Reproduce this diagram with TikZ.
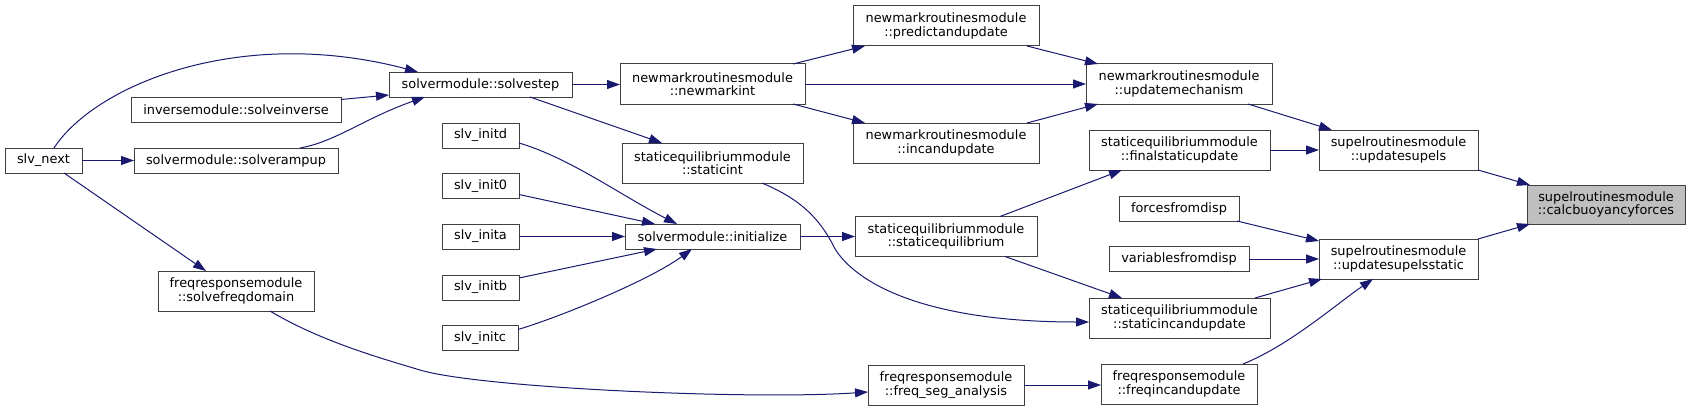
\documentclass[tikz,border=0pt]{standalone}
\usepackage{fontspec}
\setmainfont{DejaVu Sans}
\usetikzlibrary{arrows.meta,calc}
\definecolor{edgeblue}{HTML}{191970}
\definecolor{boxline}{HTML}{404040}
\definecolor{hilite}{HTML}{BFBFBF}
\begin{document}
\begin{tikzpicture}[x=1pt,y=-1pt,
  box/.style={draw=boxline, fill=white, line width=1pt, inner sep=0pt, outer sep=0pt,
    align=center, font=\fontsize{12.9}{13.3}\selectfont, minimum height=25pt},
  tall/.style={minimum height=40pt},
  edge/.style={draw=edgeblue, line width=1pt, -{Triangle[length=13pt,width=9pt]}}]
\useasboundingbox (0,0) rectangle (1691,412);

% nodes
\node[box, minimum width=77pt] (slvnext) at (43.5,160.5) {slv\_next};
\node[box, minimum width=210pt] (solveinverse) at (236,110) {inversemodule::solveinverse};
\node[box, minimum width=204pt] (solverampup) at (236,160.5) {solvermodule::solverampup};
\node[box, tall, minimum width=156pt] (solvefreq) at (236,291) {freqresponsemodule\\::solvefreqdomain};
\node[box, minimum width=183pt] (solvestep) at (480.5,84.5) {solvermodule::solvestep};
\node[box, minimum width=77pt] (initd) at (480.5,135.5) {slv\_initd};
\node[box, minimum width=77pt] (init0) at (480.5,186) {slv\_init0};
\node[box, minimum width=77pt] (inita) at (480.5,236.5) {slv\_inita};
\node[box, minimum width=77pt] (initb) at (480.5,287.5) {slv\_initb};
\node[box, minimum width=76pt] (initc) at (480,338) {slv\_initc};
\node[box, tall, minimum width=185pt] (newmarkint) at (712.5,84) {newmarkroutinesmodule\\::newmarkint};
\node[box, tall, minimum width=181pt] (staticint) at (712.5,163) {staticequilibriummodule\\::staticint};
\node[box, minimum width=175pt] (initialize) at (712.5,236.5) {solvermodule::initialize};
\node[box, tall, minimum width=186pt] (predict) at (946,26) {newmarkroutinesmodule\\::predictandupdate};
\node[box, tall, minimum width=186pt] (incand) at (946,143) {newmarkroutinesmodule\\::incandupdate};
\node[box, tall, minimum width=182pt] (staticeq) at (946,236.5) {staticequilibriummodule\\::staticequilibrium};
\node[box, tall, minimum width=156pt] (freqseg) at (946,385) {freqresponsemodule\\::freq\_seg\_analysis};
\node[box, tall, minimum width=186pt] (updmech) at (1179,84) {newmarkroutinesmodule\\::updatemechanism};
\node[box, tall, minimum width=181pt] (finalstat) at (1179.5,150) {staticequilibriummodule\\::finalstaticupdate};
\node[box, minimum width=120pt] (forces) at (1179,208.5) {forcesfromdisp};
\node[box, minimum width=140pt] (variables) at (1179,259) {variablesfromdisp};
\node[box, tall, minimum width=181pt] (staticinc) at (1179.5,318) {staticequilibriummodule\\::staticincandupdate};
\node[box, tall, minimum width=156pt] (freqinc) at (1179,384) {freqresponsemodule\\::freqincandupdate};
\node[box, tall, minimum width=159pt] (updsupels) at (1398.5,150) {supelroutinesmodule\\::updatesupels};
\node[box, tall, minimum width=159pt] (updstatic) at (1398.5,259) {supelroutinesmodule\\::updatesupelsstatic};
\node[box, tall, minimum width=158pt, minimum height=39pt, fill=hilite] (calc) at (1606,204.5) {supelroutinesmodule\\::calcbuoyancyforces};

% edges
\draw[edge] ($(slvnext.north west)+(49,0)$) .. controls (95,85) and (240,25) .. ($(solvestep.north west)+(29,0)$);
\draw[edge] (slvnext.east) -- (solverampup.west);
\draw[edge] ($(slvnext.south west)+(59,0)$) -- ($(solvefreq.north west)+(48,0)$);
\draw[edge] ($(solveinverse.north east)+(0,2)$) -- ($(solvestep.south west)+(0,-2)$);
\draw[edge] ($(solverampup.north west)+(166,0)$) .. controls (335,142) and (365,118) .. ($(solvestep.south west)+(36,0)$);
\draw[edge] (solvestep.east) -- (solvestep.east -| newmarkint.west);
\draw[edge] ($(solvestep.south west)+(141,0)$) -- ($(staticint.north west)+(40,0)$);
\draw[edge] ($(newmarkint.north west)+(173,0)$) -- ($(predict.south west)+(12,0)$);
\draw[edge] (newmarkint.east) -- (updmech.west);
\draw[edge] ($(newmarkint.south west)+(173,0)$) -- ($(incand.north west)+(12,0)$);
\draw[edge] ($(predict.south west)+(174,0)$) -- ($(updmech.north west)+(12,0)$);
\draw[edge] ($(incand.north west)+(174,0)$) -- ($(updmech.south west)+(12,0)$);
\draw[edge] ($(updmech.south west)+(162,0)$) -- ($(updsupels.north west)+(13,0)$);
\draw[edge] ($(initd.north east)+(0,20)$) .. controls (570,158) and (620,195) .. ($(initialize.north west)+(52,0)$);
\draw[edge] ($(init0.north east)+(0,21)$) -- ($(initialize.north west)+(30,0)$);
\draw[edge] (inita.east) -- (initialize.west);
\draw[edge] ($(initb.north east)+(0,3)$) -- ($(initialize.south west)+(32,0)$);
\draw[edge] ($(initc.north east)+(0,4)$) .. controls (560,317) and (650,280) .. ($(initialize.south west)+(67,0)$);
\draw[edge] (initialize.east) -- (staticeq.west);
\draw[edge] ($(staticint.south west)+(140,0)$) .. controls (790,195) and (815,210) .. (833,245)
   .. controls (845,270) and (900,322) .. ($(staticinc.west)+(0,4)$);
\draw[edge] ($(staticeq.north west)+(145,0)$) -- ($(finalstat.south west)+(33,0)$);
\draw[edge] ($(staticeq.south west)+(150,0)$) -- ($(staticinc.north west)+(33,0)$);
\draw[edge] (finalstat.east) -- (updsupels.west);
\draw[edge] ($(forces.south east)+(-2,0)$) -- ($(updstatic.north west)+(0,2)$);
\draw[edge] (variables.east) -- (updstatic.west);
\draw[edge] ($(staticinc.north west)+(166,0)$) -- ($(updstatic.south west)+(3,0)$);
\draw[edge] ($(freqinc.north west)+(142,0)$) .. controls (1290,345) and (1335,305) .. ($(updstatic.south west)+(54,0)$);
\draw[edge] ($(solvefreq.south west)+(112,0)$) .. controls (320,341) and (380,358) .. (420,370)
   .. controls (480,388) and (750,400) .. ($(freqseg.west)+(0,7)$);
\draw[edge] (freqseg.east) -- (freqseg.east -| freqinc.west);
\draw[edge] (updsupels.south east) -- ($(calc.north west)+(3,0)$);
\draw[edge] (updstatic.north east) -- ($(calc.south west)+(3,0)$);
\end{tikzpicture}
\end{document}
